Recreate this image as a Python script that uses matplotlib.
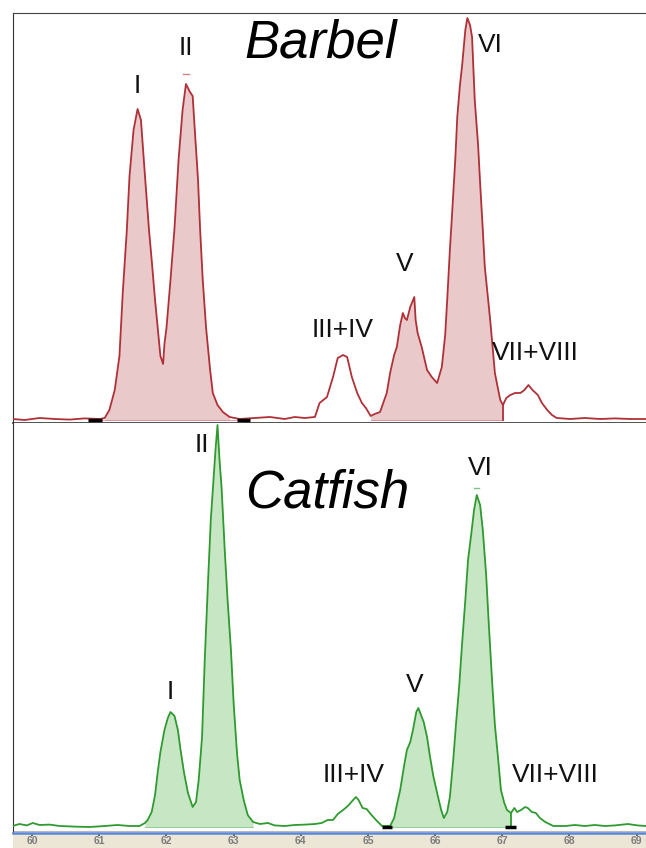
import numpy as np
import matplotlib
matplotlib.use("Agg")
import matplotlib.pyplot as plt
from matplotlib.patches import Rectangle

# ---------------- data ----------------
barbel_rt = [59.71, 59.89, 60.11, 60.34, 60.56, 60.78, 61.01, 61.08, 61.15, 61.23,
             61.30, 61.35, 61.41, 61.45, 61.51, 61.57, 61.62, 61.68, 61.74, 61.78,
             61.83, 61.87, 61.91, 61.95, 61.97, 62.00, 62.06, 62.12, 62.18, 62.24,
             62.29, 62.35, 62.39, 62.42, 62.47, 62.50, 62.54, 62.59, 62.65, 62.69,
             62.76, 62.84, 62.94, 63.09, 63.31, 63.54, 63.76, 63.91, 64.06, 64.21,
             64.28, 64.39, 64.48, 64.55, 64.63, 64.69, 64.76, 64.84, 64.91, 64.97,
             65.04, 65.10, 65.18, 65.28, 65.33, 65.39, 65.43, 65.48, 65.52, 65.55,
             65.58, 65.63, 65.69, 65.71, 65.74, 65.80, 65.88, 65.95, 66.03, 66.10,
             66.15, 66.18, 66.22, 66.25, 66.30, 66.33, 66.37, 66.40, 66.45, 66.48,
             66.52, 66.55, 66.59, 66.64, 66.67, 66.71, 66.74, 66.79, 66.82, 66.86,
             66.89, 66.94, 66.97, 67.01, 67.06, 67.12, 67.19, 67.27, 67.33, 67.39,
             67.45, 67.53, 67.59, 67.67, 67.74, 67.81, 68.01, 68.23, 68.46, 68.68,
             68.90, 69.14]
barbel_signal = [0.25, 0.0, 0.5, 0.25, 0.1, 0.4, 0.25, 0.5, 2.5, 7.5,
                 16.0, 32.0, 47.5, 61.0, 72.5, 77.75, 75.0, 61.0, 47.5, 40.0,
                 30.0, 23.0, 16.0, 14.0, 19.0, 23.0, 35.0, 48.0, 65.0, 77.5,
                 84.0, 82.0, 81.0, 73.0, 60.0, 48.0, 35.0, 23.0, 12.5, 6.75,
                 3.75, 2.0, 0.75, 0.25, 0.5, 0.75, 0.25, 0.75, 0.5, 0.75,
                 4.25, 5.75, 10.75, 15.5, 16.25, 15.75, 10.75, 6.75, 4.25, 3.0,
                 1.0, 1.5, 2.0, 6.75, 11.75, 16.25, 18.25, 23.75, 26.75, 25.5,
                 25.0, 28.25, 30.75, 25.0, 21.75, 18.25, 12.5, 10.75, 9.25, 13.25,
                 21.25, 30.0, 42.5, 50.75, 65.0, 75.75, 83.75, 88.25, 97.5, 100.5,
                 98.75, 95.75, 80.0, 68.75, 59.25, 47.5, 38.25, 30.0, 25.0, 17.5,
                 11.75, 7.5, 5.0, 3.75, 5.5, 6.25, 6.75, 6.75, 7.5, 8.75,
                 7.5, 6.25, 4.25, 2.5, 1.25, 0.5, 0.25, 0.5, 0.25, 0.4,
                 0.25, 0.25]

catfish_rt = [59.71, 59.81, 59.92, 60.01, 60.11, 60.26, 60.41, 60.63, 60.86, 61.08,
              61.27, 61.45, 61.60, 61.68, 61.72, 61.78, 61.83, 61.87, 61.91, 61.97,
              62.02, 62.06, 62.12, 62.17, 62.21, 62.26, 62.32, 62.39, 62.44, 62.48,
              62.53, 62.57, 62.62, 62.66, 62.71, 62.73, 62.76, 62.79, 62.82, 62.87,
              62.91, 62.96, 63.00, 63.05, 63.09, 63.15, 63.21, 63.29, 63.39, 63.51,
              63.61, 63.76, 63.91, 64.06, 64.21, 64.31, 64.40, 64.48, 64.55, 64.63,
              64.70, 64.78, 64.82, 64.86, 64.92, 64.98, 65.04, 65.12, 65.21, 65.33,
              65.39, 65.43, 65.48, 65.54, 65.58, 65.63, 65.67, 65.72, 65.75, 65.79,
              65.83, 65.88, 65.92, 65.97, 66.03, 66.09, 66.13, 66.18, 66.22, 66.27,
              66.31, 66.36, 66.40, 66.45, 66.49, 66.54, 66.58, 66.62, 66.67, 66.71,
              66.76, 66.80, 66.85, 66.89, 66.94, 66.98, 67.03, 67.07, 67.13, 67.18,
              67.22, 67.28, 67.34, 67.38, 67.44, 67.50, 67.56, 67.64, 67.76, 67.94,
              68.08, 68.23, 68.38, 68.53, 68.68, 68.87, 69.01, 69.14]
catfish_signal = [0.25, 0.75, 0.4, 1.0, 0.5, 0.6, 0.25, 0.1, 0.0, 0.25,
                  0.5, 0.25, 0.25, 1.0, 1.75, 3.75, 8.0, 13.75, 18.75, 24.25,
                  27.25, 28.75, 27.75, 24.25, 19.25, 13.75, 8.5, 5.0, 6.25, 11.75,
                  22.5, 41.75, 61.75, 76.75, 89.25, 94.25, 100.5, 91.75, 85.0, 68.5,
                  56.75, 44.25, 31.0, 18.5, 11.75, 6.75, 3.0, 1.25, 0.75, 1.0,
                  0.4, 0.25, 0.5, 0.6, 0.75, 1.0, 1.75, 1.75, 3.25, 4.25,
                  5.25, 6.75, 7.5, 6.75, 4.75, 4.5, 3.25, 1.75, 0.25, 0.25,
                  2.25, 5.5, 9.25, 15.5, 19.25, 21.25, 24.25, 28.75, 29.75, 28.0,
                  26.25, 22.5, 18.0, 13.0, 8.5, 4.25, 2.25, 3.75, 7.5, 16.75,
                  25.5, 35.5, 45.5, 56.75, 66.75, 73.5, 79.25, 83.0, 80.5, 74.25,
                  63.0, 50.5, 36.0, 25.5, 16.75, 9.25, 6.0, 4.25, 3.5, 4.75,
                  3.75, 4.25, 5.0, 4.75, 3.75, 3.5, 2.25, 1.25, 0.25, 0.25,
                  0.5, 0.25, 0.5, 0.25, 0.4, 0.75, 0.4, 0.25]

# integration windows (retention time start, end) and split points
barbel_windows = [(61.04, 63.05), (65.04, 67.01)]
catfish_windows = [(61.68, 63.29), (65.33, 67.13)]
barbel_split = 67.01
catfish_split = 67.13
barbel_markers = [(60.83, 61.04), (63.05, 63.24)]
catfish_markers = [(65.21, 65.36), (67.04, 67.21)]
# apex markers (rt, signal)
barbel_apex = (62.29, 86.5)
catfish_apex = (66.62, 84.75)

# peak labels: (text, rt, signal)
peak_names = ["I", "II", "III+IV", "V", "VI", "VII+VIII"]
barbel_label_rt = [61.57, 62.29, 64.63, 65.55, 66.82, 67.49]
barbel_label_sig = [83.5, 93.0, 22.5, 39.0, 93.75, 16.75]
catfish_label_rt = [62.06, 62.53, 64.78, 65.70, 66.67, 67.79]
catfish_label_sig = [33.75, 95.5, 13.0, 35.5, 89.75, 13.0]

xticks = [60, 61, 62, 63, 64, 65, 66, 67, 68, 69]
xtick_labels = ["60", "61", "62", "63", "64", "65", "66", "67", "68", "69"]

# ---------------- figure ----------------
W, H = 646, 848
fig = plt.figure(figsize=(W / 100, H / 100), dpi=100)
fig.patch.set_facecolor("white")

left = 13 / W
ax_top = fig.add_axes([left, 1 - 423 / H, 1 - left, (423 - 13) / H])
ax_bot = fig.add_axes([left, 1 - 833 / H, 1 - left, (833 - 423) / H], sharex=ax_top)

fig.patches.append(Rectangle((left, 0), 1 - left, (848 - 834) / H,
                             transform=fig.transFigure, facecolor="#ece6d6",
                             edgecolor="none", zorder=-5))

label_font = ["Liberation Sans", "DejaVu Sans"]


def draw_panel(ax, rt, sig, windows, split, markers, apex, lrt, lsig, line_c, fill_c,
               title, title_xy):
    rt = np.asarray(rt)
    sig = np.asarray(sig)
    for a, b in windows:
        m = (rt >= a - 1e-9) & (rt <= b + 1e-9)
        ax.fill_between(rt, 0, sig, where=m, color=fill_c, linewidth=0, zorder=1)
        ax.plot([a, b], [0, 0], color=line_c, lw=0.6, alpha=0.5, zorder=2)
    ax.plot(rt, sig, color=line_c, lw=1.3, zorder=3)
    sv = np.interp(split, rt, sig)
    ax.plot([split, split], [0, sv], color=line_c, lw=1.3, zorder=3)
    for a, b in markers:
        ax.plot([a, b], [0, 0], color="black", lw=2.5, solid_capstyle="butt", zorder=4)
    ax.plot([apex[0] - 0.04, apex[0] + 0.04], [apex[1], apex[1]], color=line_c,
            lw=1.0, alpha=0.6, zorder=3)
    for name, x, y in zip(peak_names, lrt, lsig):
        ax.text(x, y, name, ha="center", va="center", fontsize=19,
                family=label_font, color="#111111", zorder=5)
    ax.text(title_xy[0], title_xy[1], title, ha="center", va="center", fontsize=38,
            style="italic", family=label_font, color="black", zorder=5)
    ax.spines["right"].set_visible(False)
    ax.spines["left"].set_color("#333333")
    ax.spines["top"].set_color("#444444")
    ax.set_yticks([])


draw_panel(ax_top, barbel_rt, barbel_signal, barbel_windows, barbel_split, barbel_markers,
           barbel_apex, barbel_label_rt, barbel_label_sig, "#b03038", "#e9c9c9", "Barbel",
           (64.29, 94.25))
draw_panel(ax_bot, catfish_rt, catfish_signal, catfish_windows, catfish_split,
           catfish_markers, catfish_apex, catfish_label_rt, catfish_label_sig, "#2f9a2f",
           "#c6e6c4", "Catfish", (64.39, 83.5))

ax_top.set_xlim(59.715, 69.14)
ax_top.set_ylim(-0.75, 101.75)
ax_bot.set_ylim(-1.5, 101.0)

ax_top.spines["bottom"].set_color("#333333")
ax_top.spines["bottom"].set_linewidth(1.2)
ax_top.tick_params(axis="x", which="both", bottom=False, labelbottom=False)
ax_bot.spines["top"].set_visible(False)
ax_bot.spines["bottom"].set_color("#5b86d6")
ax_bot.spines["bottom"].set_linewidth(1.8)
ax_bot.axhline(-0.9, color="#b8b8b8", lw=0.8, zorder=0)

ax_bot.set_xticks(xticks)
ax_bot.set_xticklabels(xtick_labels)
ax_bot.tick_params(axis="x", direction="out", length=2.0, width=1.2, color="#444444",
                   labelsize=7.5, labelcolor="#7c7c7c", pad=0.5)
for lab in ax_bot.get_xticklabels():
    lab.set_fontweight("bold")
    lab.set_family(label_font)

fig.savefig("out.png", dpi=100, facecolor="white")
